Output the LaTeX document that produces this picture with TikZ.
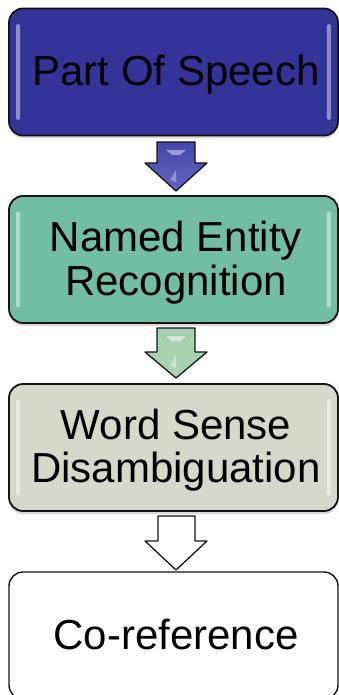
\documentclass[tikz,border=0pt]{standalone}
\usepackage{fontspec}
\setmainfont{Liberation Sans}
\usetikzlibrary{shadows,calc}
\definecolor{cA}{RGB}{51,51,153}
\definecolor{cB}{RGB}{114,190,164}
\definecolor{cC}{RGB}{214,217,201}
\definecolor{aAtop}{RGB}{70,70,170}
\definecolor{aAbot}{RGB}{100,100,195}
\definecolor{aB}{RGB}{168,210,178}
\definecolor{edge}{RGB}{20,20,20}
\tikzset{
  stagebox/.style={draw=edge, line width=1.8pt, rounded corners=14pt,
    minimum width=329pt, minimum height=127pt, inner sep=0pt},
  shadowed/.style={drop shadow={shadow xshift=0pt, shadow yshift=-3pt, opacity=0.3}},
  lbl/.style={font=\fontsize{42}{44}\selectfont, anchor=base, inner sep=0pt, text=black},
  blockarrow/.style={draw=edge, line width=1.3pt, line join=round},
  gloss/.style={fill=white, opacity=0.45, rounded corners=1.5pt},
}
\begin{document}
\begin{tikzpicture}[x=1pt,y=-1pt]
\useasboundingbox (0,0) rectangle (339,695);
% boxes
\node[stagebox, shadowed, fill=cA] (b1) at (173.5,72) {};
\node[stagebox, shadowed, fill=cB] (b2) at (173.5,259.5) {};
\node[stagebox, shadowed, fill=cC] (b3) at (173.5,447.5) {};
\node[stagebox, fill=white, line width=1.4pt] (b4) at (173.5,635.5) {};
% gloss strips
\foreach \b in {b1,b2,b3}{
  \fill[gloss] ($(\b.west)+(8,-48)$) rectangle ($(\b.west)+(12,48)$);
  \fill[gloss] ($(\b.east)+(-12,-48)$) rectangle ($(\b.east)+(-8,48)$);
}
% labels
\node[lbl] (t1) at (176,86) {Part Of Speech};
\node[lbl] (t2a) at (176,251) {Named Entity};
\node[lbl] (t2b) at (176,295) {Recognition};
\node[lbl] (t3a) at (176,439) {Word Sense};
\node[lbl] (t3b) at (176,482) {Disambiguation};
\node[lbl] (t4) at (176,649.5) {Co-reference};
% block arrows
\draw[blockarrow, top color=aAtop, bottom color=aAbot]
  (157,142) -- (195,142) -- (195,163) -- (207,163) -- (176,191) -- (145,163) -- (157,163) -- cycle;
\fill[white, opacity=0.45] (166,150) -- (186,150) -- (180,155) -- (172,155) -- cycle;
\fill[white, opacity=0.35] (170,180) -- (176,170) -- (176,182) -- cycle;
\draw[blockarrow, fill=aB]
  (157,328) -- (195,328) -- (195,352) -- (207,352) -- (176,378) -- (145,352) -- (157,352) -- cycle;
\fill[white, opacity=0.5] (166,336) -- (186,336) -- (180,341) -- (172,341) -- cycle;
\fill[white, opacity=0.4] (170,366) -- (176,356) -- (176,368) -- cycle;
\draw[blockarrow, fill=white]
  (158,516) -- (195,516) -- (195,541) -- (207,541) -- (176,570) -- (145,541) -- (158,541) -- cycle;
\end{tikzpicture}
\end{document}
